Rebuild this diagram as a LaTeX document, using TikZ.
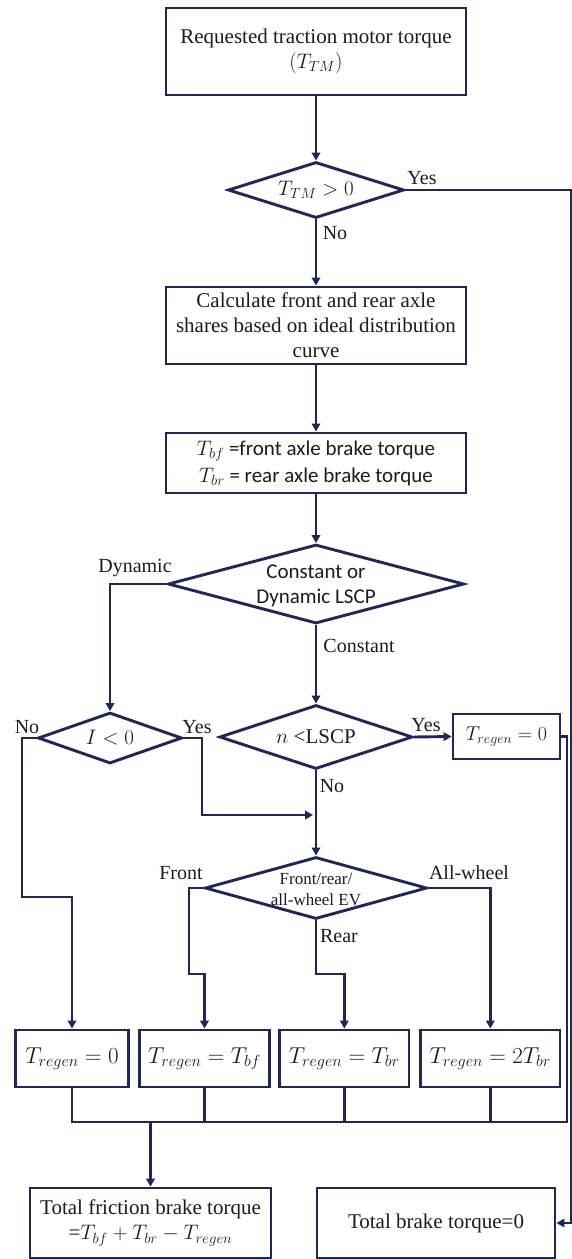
\RequirePackage{fix-cm}
\documentclass[tikz,border=0pt]{standalone}
\usepackage{fontspec}
\setmainfont{Liberation Serif}
\newfontfamily\carlito{Carlito}
\usetikzlibrary{shapes.geometric,arrows.meta,calc}
\definecolor{navy}{RGB}{30,38,90}
\definecolor{ink}{RGB}{28,28,28}
\begin{document}
\begin{tikzpicture}[x=1pt,y=-1pt,
  conn/.style={draw=navy,line width=2.9pt},
  arr/.style={conn,-{Triangle[length=8pt,width=8.5pt]}},
  box/.style={draw=navy,line width=2.9pt,rectangle,inner sep=0pt,align=center,text=ink,font=\fontsize{21}{25}\selectfont},
  mbox/.style={box,font=\fontsize{23}{27}\selectfont},
  dia/.style={draw=navy,line width=2.9pt,diamond,inner sep=0pt},
  dtext/.style={align=center,text=ink,font=\fontsize{21}{25}\selectfont,inner sep=0pt},
  lab/.style={text=ink,font=\fontsize{20}{24}\selectfont,inner sep=0pt},
]
\useasboundingbox (0,0) rectangle (571,1259);
\fill[white] (0,0) rectangle (571,1259);

% nodes
\node[box,minimum width=300pt,minimum height=87pt] (b1) at (316,51.5) {Requested traction motor torque\\$(T_{TM})$};
\node[dia,minimum width=176pt,minimum height=56pt] (d1) at (316,190) {};
\node[dtext] at (d1) {$T_{TM}>0$};
\node[box,minimum width=300pt,minimum height=77pt] (b2) at (316,325.5) {Calculate front and rear axle\\shares based on ideal distribution\\curve};
\node[box,minimum width=300pt,minimum height=60pt,font={\fontsize{21}{27}\selectfont\carlito}] (b3) at (316,463) {$T_{bf}$ =front axle brake torque\\$T_{br}$ = rear axle brake torque};
\node[dia,minimum width=296pt,minimum height=79pt] (d2) at (316,584) {};
\node[dtext,font={\fontsize{21}{25}\selectfont\carlito}] at (316,586) {Constant or\\Dynamic LSCP};
\node[dia,minimum width=144pt,minimum height=51pt] (dI) at (110,738) {};
\node[dtext] at (dI) {$I<0$};
\node[dia,minimum width=193pt,minimum height=64pt] (dn) at (316,737) {};
\node[dtext] at (dn) {$n$ <LSCP};
\node[box,minimum width=107pt,minimum height=45pt,font=\fontsize{20}{24}\selectfont] (r0) at (506.5,736.5) {$T_{regen}=0$};
\node[dia,minimum width=222pt,minimum height=62pt] (d3) at (316,888) {};
\node[dtext,font=\fontsize{17}{21}\selectfont] at (316,889.5) {Front/rear/\\all-wheel EV};

\node[mbox,minimum width=112.5pt,minimum height=57pt] (bA) at (72,1058.5) {$T_{regen}=0$};
\node[mbox,minimum width=130pt,minimum height=57pt] (bB) at (204.5,1058.5) {$T_{regen}=T_{bf}$};
\node[mbox,minimum width=129.3pt,minimum height=57pt] (bC) at (344.3,1058.5) {$T_{regen}=T_{br}$};
\node[mbox,minimum width=139.4pt,minimum height=57pt] (bD) at (490.3,1058.5) {$T_{regen}=2T_{br}$};

\node[box,minimum width=241pt,minimum height=70pt] (fb) at (150.5,1223) {Total friction brake torque\\=$T_{bf}+T_{br}-T_{regen}$};
\node[box,minimum width=238pt,minimum height=70pt] (tb) at (436,1223) {Total brake torque=0};

% labels
\node[lab] at (422,178) {Yes};
\node[lab] at (335,233) {No};
\node[lab] at (135,568) {Dynamic};
\node[lab] at (359,646) {Constant};
\node[lab] at (27,727) {No};
\node[lab] at (197,727) {Yes};
\node[lab] at (426,725) {Yes};
\node[lab] at (332,786) {No};
\node[lab] at (181,873) {Front};
\node[lab] at (469,873) {All-wheel};
\node[lab] at (339,936) {Rear};

% coordinates
\coordinate (ey) at (571.5,190);
\coordinate (eb) at (571.5,1223);
\coordinate (j1) at (22,897);
\coordinate (j2) at (202,815);
\coordinate (m1) at (316,815);
\coordinate (j3) at (189,974);
\coordinate (j4) at (316,974);
\coordinate (busL) at (72,1122);
\coordinate (busR) at (567,1122);

% connectors
\draw[arr] (b1.south) -- (d1.north);
\draw[arr] (d1.south) -- (b2.north);
\draw[arr] (d1.east) -- (ey) -- (eb) -- (tb.east);
\draw[arr] (b2.south) -- (b3.north);
\draw[arr] (b3.south) -- (d2.north);
\draw[arr] (d2.west) -| (dI.north);
\draw[arr] (d2.south) -- (dn.north);
\draw[arr] (dn.east) -- (r0.west);
\draw[arr] (dn.south) -- (d3.north);
\draw[arr] (dI.west) -| (j1) -| (bA.north);
\draw[arr,shorten >=3pt] (dI.east) -| (j2) -- (m1);
\draw[arr] (d3.west) -| (j3) -| (bB.north);
\draw[arr] (d3.south) -- (j4) -| (bC.north);
\draw[arr] (d3.east) -| (bD.north);
\draw[conn] (bA.south) -- (busL) -- (busR) -- (r0.east -| busR) -- (r0.east);
\draw[conn] (bB.south) -- (bB.south |- busL);
\draw[conn] (bC.south) -- (bC.south |- busL);
\draw[conn] (bD.south) -- (bD.south |- busL);
\draw[arr] (fb.north |- busL) -- (fb.north);
\end{tikzpicture}
\end{document}
